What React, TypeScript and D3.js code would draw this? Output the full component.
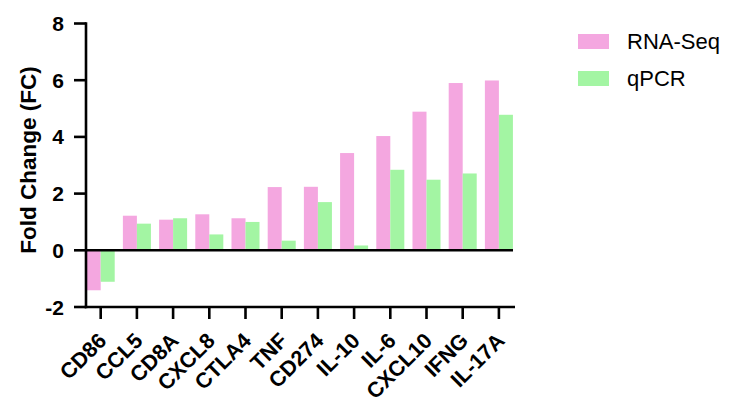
import React from 'react';
import * as d3 from 'd3';

const genes = ['CD86', 'CCL5', 'CD8A', 'CXCL8', 'CTLA4', 'TNF', 'CD274', 'IL-10', 'IL-6', 'CXCL10', 'IFNG', 'IL-17A'];
const rnaSeq = [-1.41, 1.22, 1.08, 1.27, 1.13, 2.23, 2.24, 3.43, 4.03, 4.89, 5.9, 5.99];
const qPCR = [-1.11, 0.94, 1.13, 0.56, 1.0, 0.34, 1.7, 0.17, 2.84, 2.49, 2.71, 4.78];
const seriesNames = ['RNA-Seq', 'qPCR'];
const colors = ['#f4a7e0', '#a3f5a3'];
const yTicks = [-2, 0, 2, 4, 6, 8];

const W = 730;
const H = 403;
const font = "'Liberation Sans', Arial, sans-serif";

export default function App() {
  const y = d3.scaleLinear().domain([-2, 8]).range([307, 23.5]);
  const x0 = d3.scaleBand().domain(genes).range([82.6, 517]).paddingInner(0.226).paddingOuter(0.113);
  const x1 = d3.scaleBand().domain(seriesNames).range([0, x0.bandwidth()]);
  const axisX = 86;
  const series = [rnaSeq, qPCR];

  return (
    <svg width={W} height={H} style={{ position: 'absolute', left: 0, top: 0, background: '#fff' }}>
      {/* bars */}
      {genes.map((g, i) =>
        series.map((vals, s) => {
          const v = vals[i];
          return (
            <rect
              key={g + s}
              x={x0(g)! + x1(seriesNames[s])!}
              y={Math.min(y(v), y(0))}
              width={x1.bandwidth()}
              height={Math.abs(y(v) - y(0))}
              fill={colors[s]}
            />
          );
        })
      )}

      {/* zero line */}
      <line x1={axisX} x2={513} y1={y(0)} y2={y(0)} stroke="#000" strokeWidth={2.6} />

      {/* y axis */}
      <line x1={axisX} x2={axisX} y1={y(8) - 1.3} y2={y(-2) + 1.3} stroke="#000" strokeWidth={2.6} />
      {yTicks.map(t => (
        <g key={t}>
          <line x1={74} x2={axisX} y1={y(t)} y2={y(t)} stroke="#000" strokeWidth={2.6} />
          <text x={64} y={y(t)} dy="0.36em" textAnchor="end" fontFamily={font} fontWeight="bold" fontSize={21}>
            {t}
          </text>
        </g>
      ))}
      <text
        transform={`translate(36,160) rotate(-90)`}
        textAnchor="middle"
        fontFamily={font}
        fontWeight="bold"
        fontSize={22.5}
      >
        Fold Change (FC)
      </text>

      {/* x axis */}
      <line x1={axisX - 1.3} x2={515} y1={y(-2)} y2={y(-2)} stroke="#000" strokeWidth={2.6} />
      {genes.map(g => {
        const cx = x0(g)! + x0.bandwidth() / 2;
        return (
          <g key={g}>
            <line x1={cx} x2={cx} y1={y(-2)} y2={319} stroke="#000" strokeWidth={2.6} />
            <text
              transform={`translate(${cx + 7},342) rotate(-45)`}
              textAnchor="end"
              fontFamily={font}
              fontWeight="bold"
              fontSize={21.5}
            >
              {g}
            </text>
          </g>
        );
      })}

      {/* legend */}
      {seriesNames.map((n, i) => (
        <g key={n} transform={`translate(578,${34 + i * 37})`}>
          <rect x={0} y={0} width={31} height={15} fill={colors[i]} />
          <text x={49} y={7.5} dy="0.36em" fontFamily={font} fontSize={22}>
            {n}
          </text>
        </g>
      ))}
    </svg>
  );
}
